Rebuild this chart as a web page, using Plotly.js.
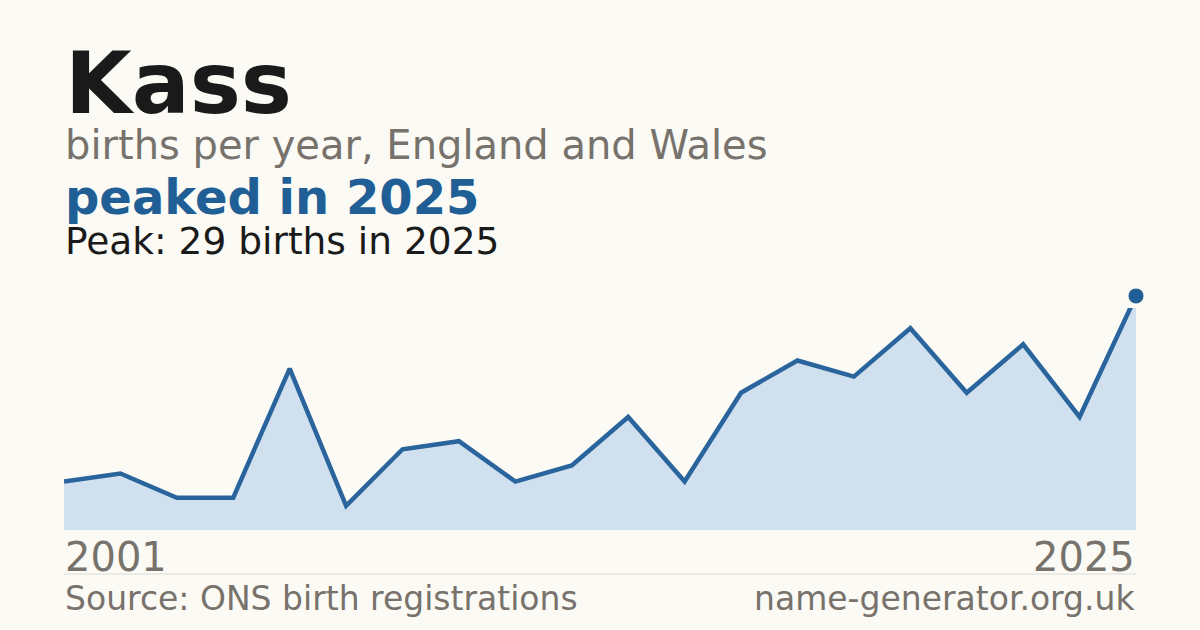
<!DOCTYPE html>
<html>
<head>
<meta charset="utf-8">
<script src="https://cdn.plot.ly/plotly-3.0.1.min.js"></script>
<style>
  html, body { margin: 0; padding: 0; background: #fbfaf5; }
  #chart { width: 1200px; height: 630px; }
</style>
</head>
<body>
<div id="chart"></div>
<script>
// births per year (20 years with data)
var years = ['2001', '2002', '2004', '2005', '2006', '2007', '2008', '2009', '2010', '2011',
             '2013', '2014', '2015', '2016', '2018', '2019', '2021', '2022', '2024', '2025'];
var births = [6, 7, 4, 4, 20, 3, 10, 11, 6, 8, 14, 6, 17, 21, 19, 25, 17, 23, 14, 29];

var nameText = 'Kass';
var subText = 'births per year, England and Wales';
var headline = 'peaked in 2025';
var peakText = 'Peak: 29 births in 2025';
var sourceText = 'Source: ONS birth registrations';
var siteText = 'name-generator.org.uk';

var BLUE = '#1f5f96';
var GREY = '#77726b';
var FONT = 'DejaVu Sans, sans-serif';

var last = births.length - 1;

// the area is clipped a little below the peak, the peak dot sits above it
var AREA_TOP = 27.5;
var PLOT_H = 250;      // pixel height of the whole plot box
var AREA_H = 222;      // pixel height of the clipped area part
var BOTTOM = 530;      // pixel row of the baseline

var area = {
    x: years,
    y: births,
    type: 'scatter',
    mode: 'lines',
    fill: 'tozeroy',
    fillcolor: '#d0e0ef',
    line: { color: '#29649c', width: 4.5 },
    hoverinfo: 'skip'
};

var peak = {
    x: [years[last]],
    y: [births[last]],
    yaxis: 'y2',
    type: 'scatter',
    mode: 'markers',
    marker: { color: BLUE, size: 15 },
    cliponaxis: false,
    hoverinfo: 'skip'
};

// paper y for a pixel row
function py(px) { return (BOTTOM - px) / PLOT_H; }

function note(text, x, y, size, color, bold, anchor) {
    return {
        text: bold ? '<b>' + text + '</b>' : text,
        xref: 'paper', yref: 'paper',
        x: x, y: y,
        xanchor: anchor || 'left', yanchor: 'middle',
        showarrow: false, borderpad: 0,
        font: { family: FONT, size: size, color: color }
    };
}

var layout = {
    width: 1200,
    height: 630,
    paper_bgcolor: '#fbfaf5',
    plot_bgcolor: 'rgba(0,0,0,0)',
    margin: { l: 64, r: 64, t: BOTTOM - PLOT_H, b: 630 - BOTTOM, pad: 0 },
    showlegend: false,
    xaxis: {
        type: 'category',
        range: [0, last],
        showgrid: false, zeroline: false, showline: false,
        showticklabels: false, ticks: ''
    },
    yaxis: {
        domain: [0, AREA_H / PLOT_H],
        range: [0, AREA_TOP],
        showgrid: false, zeroline: false, showline: false,
        showticklabels: false, ticks: ''
    },
    yaxis2: {
        domain: [0, 1],
        range: [0, AREA_TOP * PLOT_H / AREA_H],
        anchor: 'x',
        showgrid: false, zeroline: false, showline: false,
        showticklabels: false, ticks: ''
    },
    shapes: [{
        type: 'line', xref: 'paper', yref: 'paper',
        x0: 0, x1: 1, y0: py(574), y1: py(574),
        line: { color: '#dcdad4', width: 1 }
    }],
    annotations: [
        note(nameText, 0, py(83), 86, '#1a1a1a', true),
        note(subText, 0, py(145), 40, GREY, false),
        note(headline, 0, py(197), 48, BLUE, true),
        note(peakText, 0, py(241), 37.5, '#1a1a1a', false),
        note(years[0], 0, py(557), 40, GREY, false),
        note(years[last], 1, py(557), 40, GREY, false, 'right'),
        note(sourceText, 0, py(598), 33, GREY, false),
        note(siteText, 1, py(598), 33, GREY, false, 'right')
    ]
};

Plotly.newPlot('chart', [area, peak], layout, { staticPlot: true });
</script>
</body>
</html>
